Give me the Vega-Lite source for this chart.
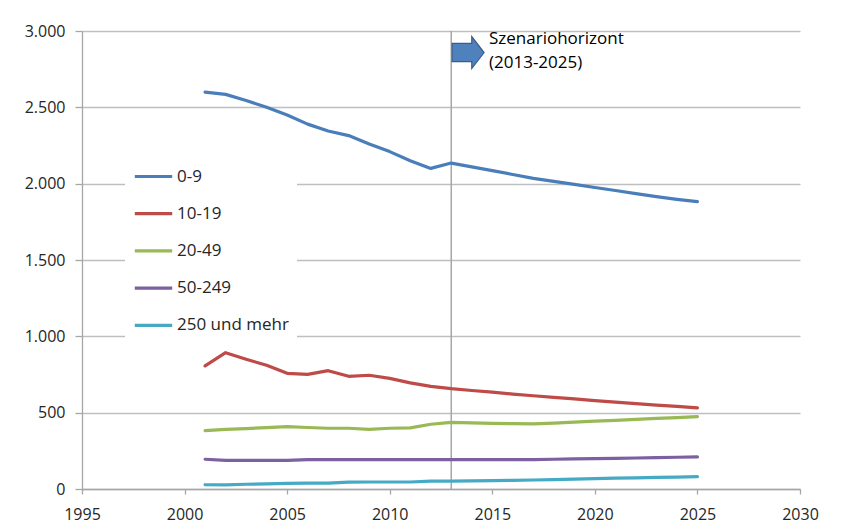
{
  "$schema": "https://vega.github.io/schema/vega-lite/v6.json",
  "width": 718,
  "height": 458,
  "autosize": {"type": "none"},
  "padding": {"left": 82, "top": 31, "right": 44, "bottom": 42},
  "background": "white",
  "config": {"view": {"stroke": null}},
  "datasets": {
    "series": [
      {"year": 2001, "group": "0-9", "value": 2600},
      {"year": 2002, "group": "0-9", "value": 2585},
      {"year": 2003, "group": "0-9", "value": 2545},
      {"year": 2004, "group": "0-9", "value": 2500},
      {"year": 2005, "group": "0-9", "value": 2450},
      {"year": 2006, "group": "0-9", "value": 2390},
      {"year": 2007, "group": "0-9", "value": 2345},
      {"year": 2008, "group": "0-9", "value": 2315},
      {"year": 2009, "group": "0-9", "value": 2260},
      {"year": 2010, "group": "0-9", "value": 2210},
      {"year": 2011, "group": "0-9", "value": 2150},
      {"year": 2012, "group": "0-9", "value": 2100},
      {"year": 2013, "group": "0-9", "value": 2135},
      {"year": 2014, "group": "0-9", "value": 2110},
      {"year": 2015, "group": "0-9", "value": 2085},
      {"year": 2016, "group": "0-9", "value": 2060},
      {"year": 2017, "group": "0-9", "value": 2035},
      {"year": 2018, "group": "0-9", "value": 2015},
      {"year": 2019, "group": "0-9", "value": 1995},
      {"year": 2020, "group": "0-9", "value": 1975},
      {"year": 2021, "group": "0-9", "value": 1955},
      {"year": 2022, "group": "0-9", "value": 1935},
      {"year": 2023, "group": "0-9", "value": 1915},
      {"year": 2024, "group": "0-9", "value": 1897},
      {"year": 2025, "group": "0-9", "value": 1882},
      {"year": 2001, "group": "10-19", "value": 806},
      {"year": 2002, "group": "10-19", "value": 893},
      {"year": 2003, "group": "10-19", "value": 850},
      {"year": 2004, "group": "10-19", "value": 810},
      {"year": 2005, "group": "10-19", "value": 758},
      {"year": 2006, "group": "10-19", "value": 751},
      {"year": 2007, "group": "10-19", "value": 775},
      {"year": 2008, "group": "10-19", "value": 738},
      {"year": 2009, "group": "10-19", "value": 745},
      {"year": 2010, "group": "10-19", "value": 725},
      {"year": 2011, "group": "10-19", "value": 695},
      {"year": 2012, "group": "10-19", "value": 672},
      {"year": 2013, "group": "10-19", "value": 657},
      {"year": 2014, "group": "10-19", "value": 645},
      {"year": 2015, "group": "10-19", "value": 634},
      {"year": 2016, "group": "10-19", "value": 622},
      {"year": 2017, "group": "10-19", "value": 611},
      {"year": 2018, "group": "10-19", "value": 600},
      {"year": 2019, "group": "10-19", "value": 590},
      {"year": 2020, "group": "10-19", "value": 579},
      {"year": 2021, "group": "10-19", "value": 569},
      {"year": 2022, "group": "10-19", "value": 559},
      {"year": 2023, "group": "10-19", "value": 550},
      {"year": 2024, "group": "10-19", "value": 541},
      {"year": 2025, "group": "10-19", "value": 532},
      {"year": 2001, "group": "20-49", "value": 382},
      {"year": 2002, "group": "20-49", "value": 391},
      {"year": 2003, "group": "20-49", "value": 396},
      {"year": 2004, "group": "20-49", "value": 402},
      {"year": 2005, "group": "20-49", "value": 408},
      {"year": 2006, "group": "20-49", "value": 403},
      {"year": 2007, "group": "20-49", "value": 398},
      {"year": 2008, "group": "20-49", "value": 398},
      {"year": 2009, "group": "20-49", "value": 391},
      {"year": 2010, "group": "20-49", "value": 398},
      {"year": 2011, "group": "20-49", "value": 400},
      {"year": 2012, "group": "20-49", "value": 424},
      {"year": 2013, "group": "20-49", "value": 437},
      {"year": 2014, "group": "20-49", "value": 433},
      {"year": 2015, "group": "20-49", "value": 430},
      {"year": 2016, "group": "20-49", "value": 428},
      {"year": 2017, "group": "20-49", "value": 426},
      {"year": 2018, "group": "20-49", "value": 432},
      {"year": 2019, "group": "20-49", "value": 438},
      {"year": 2020, "group": "20-49", "value": 444},
      {"year": 2021, "group": "20-49", "value": 450},
      {"year": 2022, "group": "20-49", "value": 456},
      {"year": 2023, "group": "20-49", "value": 462},
      {"year": 2024, "group": "20-49", "value": 468},
      {"year": 2025, "group": "20-49", "value": 474},
      {"year": 2001, "group": "50-249", "value": 195},
      {"year": 2002, "group": "50-249", "value": 187},
      {"year": 2003, "group": "50-249", "value": 187},
      {"year": 2004, "group": "50-249", "value": 187},
      {"year": 2005, "group": "50-249", "value": 188},
      {"year": 2006, "group": "50-249", "value": 193},
      {"year": 2007, "group": "50-249", "value": 193},
      {"year": 2008, "group": "50-249", "value": 193},
      {"year": 2009, "group": "50-249", "value": 193},
      {"year": 2010, "group": "50-249", "value": 193},
      {"year": 2011, "group": "50-249", "value": 193},
      {"year": 2012, "group": "50-249", "value": 193},
      {"year": 2013, "group": "50-249", "value": 193},
      {"year": 2014, "group": "50-249", "value": 193},
      {"year": 2015, "group": "50-249", "value": 193},
      {"year": 2016, "group": "50-249", "value": 193},
      {"year": 2017, "group": "50-249", "value": 193},
      {"year": 2018, "group": "50-249", "value": 195},
      {"year": 2019, "group": "50-249", "value": 197},
      {"year": 2020, "group": "50-249", "value": 199},
      {"year": 2021, "group": "50-249", "value": 201},
      {"year": 2022, "group": "50-249", "value": 203},
      {"year": 2023, "group": "50-249", "value": 205},
      {"year": 2024, "group": "50-249", "value": 208},
      {"year": 2025, "group": "50-249", "value": 210},
      {"year": 2001, "group": "250 und mehr", "value": 28},
      {"year": 2002, "group": "250 und mehr", "value": 27},
      {"year": 2003, "group": "250 und mehr", "value": 31},
      {"year": 2004, "group": "250 und mehr", "value": 33},
      {"year": 2005, "group": "250 und mehr", "value": 37},
      {"year": 2006, "group": "250 und mehr", "value": 38},
      {"year": 2007, "group": "250 und mehr", "value": 39},
      {"year": 2008, "group": "250 und mehr", "value": 45},
      {"year": 2009, "group": "250 und mehr", "value": 46},
      {"year": 2010, "group": "250 und mehr", "value": 46},
      {"year": 2011, "group": "250 und mehr", "value": 46},
      {"year": 2012, "group": "250 und mehr", "value": 51},
      {"year": 2013, "group": "250 und mehr", "value": 52},
      {"year": 2014, "group": "250 und mehr", "value": 53},
      {"year": 2015, "group": "250 und mehr", "value": 55},
      {"year": 2016, "group": "250 und mehr", "value": 57},
      {"year": 2017, "group": "250 und mehr", "value": 59},
      {"year": 2018, "group": "250 und mehr", "value": 62},
      {"year": 2019, "group": "250 und mehr", "value": 65},
      {"year": 2020, "group": "250 und mehr", "value": 68},
      {"year": 2021, "group": "250 und mehr", "value": 71},
      {"year": 2022, "group": "250 und mehr", "value": 73},
      {"year": 2023, "group": "250 und mehr", "value": 76},
      {"year": 2024, "group": "250 und mehr", "value": 78},
      {"year": 2025, "group": "250 und mehr", "value": 81}
    ],
    "horizon": [{"year": 2013}],
    "arrow": [{"year": 2013.82, "value": 2859}],
    "note": [{"year": 2014.84, "value": 3000, "label": "Szenariohorizont\n(2013-2025)"}]
  },
  "layer": [
    {
      "data": {"name": "horizon"},
      "mark": {"type": "rule", "color": "#a6a6a6", "strokeWidth": 1.5},
      "encoding": {
        "x": {"field": "year", "type": "quantitative", "scale": {"domain": [1995, 2030], "nice": false}}
      }
    },
    {
      "data": {"name": "series"},
      "mark": {"type": "line", "strokeWidth": 3.2, "strokeCap": "round", "strokeJoin": "round"},
      "encoding": {
        "x": {
          "field": "year", "type": "quantitative",
          "scale": {"domain": [1995, 2030], "nice": false, "zero": false},
          "axis": {
            "title": null, "values": [1995, 2000, 2005, 2010, 2015, 2020, 2025, 2030],
            "format": "d", "grid": false,
            "domainColor": "#a6a6a6", "domainWidth": 1.3,
            "tickColor": "#a6a6a6", "tickWidth": 1.3, "tickSize": 5,
            "labelFont": "Open Sans", "labelFontSize": 16, "labelColor": "#262626",
            "labelPadding": 12, "labelFlush": false, "labelOverlap": false
          }
        },
        "y": {
          "field": "value", "type": "quantitative",
          "scale": {"domain": [0, 3000], "nice": false},
          "axis": {
            "title": null, "values": [0, 500, 1000, 1500, 2000, 2500, 3000],
            "labelExpr": "replace(format(datum.value, ','), ',', '.')",
            "grid": true, "gridColor": "#bfbfbf", "gridWidth": 1.3,
            "domainColor": "#a6a6a6", "domainWidth": 1.3,
            "tickColor": "#a6a6a6", "tickWidth": 1.3, "tickSize": 7,
            "labelFont": "Open Sans", "labelFontSize": 16, "labelColor": "#262626",
            "labelPadding": 10
          }
        },
        "color": {
          "field": "group", "type": "nominal",
          "scale": {
            "domain": ["0-9", "10-19", "20-49", "50-249", "250 und mehr"],
            "range": ["#4a7ebb", "#be4b48", "#98b954", "#7d60a0", "#46aac5"]
          },
          "legend": {
            "title": null, "orient": "none", "legendX": 43, "legendY": 117,
            "fillColor": "white", "padding": 8,
            "symbolType": "stroke", "symbolSize": 1400, "symbolStrokeWidth": 3.2,
            "rowPadding": 8.2, "labelOffset": 3,
            "labelFont": "Open Sans", "labelFontSize": 17, "labelColor": "#262626"
          }
        }
      }
    },
    {
      "data": {"name": "arrow"},
      "mark": {
        "type": "point", "filled": true, "opacity": 1,
        "shape": "M-1,-0.57 L0.23,-0.57 L0.23,-1 L1,0 L0.23,1 L0.23,0.57 L-1,0.57 Z",
        "size": 1024, "fill": "#4f81bd", "stroke": "#385d8a", "strokeWidth": 1.2
      },
      "encoding": {
        "x": {"field": "year", "type": "quantitative"},
        "y": {"field": "value", "type": "quantitative"}
      }
    },
    {
      "data": {"name": "note"},
      "mark": {
        "type": "text", "align": "left", "baseline": "top", "lineBreak": "\n",
        "lineHeight": 24, "font": "Open Sans", "fontSize": 17, "color": "#000000"
      },
      "encoding": {
        "x": {"field": "year", "type": "quantitative"},
        "y": {"field": "value", "type": "quantitative"},
        "text": {"field": "label"}
      }
    }
  ]
}
